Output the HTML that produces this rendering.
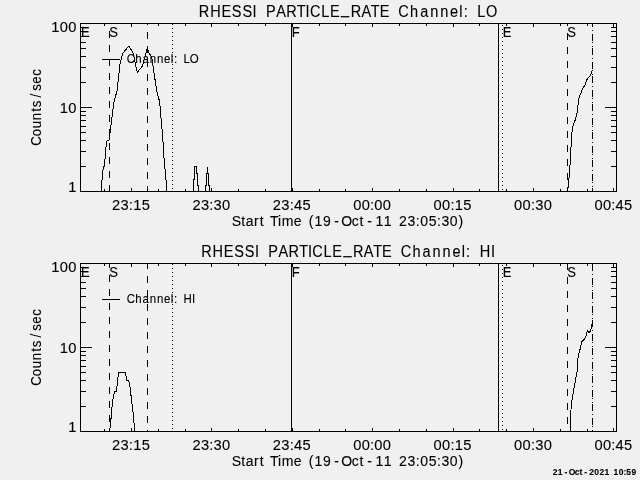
<!DOCTYPE html>
<html><head><meta charset="utf-8"><title>RHESSI PARTICLE_RATE</title>
<style>
html,body{margin:0;padding:0;background:#f0f0f0;}
body{width:640px;height:480px;overflow:hidden;}
svg{display:block;}
text{font-family:"Liberation Sans",sans-serif;fill:#000;stroke:#000;stroke-width:0.12px;}
.lab{font-size:14px;}
.ttl{font-size:16.5px;}
.leg{font-size:12.2px;}
.ts{font-size:8.5px;font-weight:bold;}
</style></head><body>
<svg width="640" height="480" viewBox="0 0 640 480">
<rect width="640" height="480" fill="#f0f0f0"/>
<g shape-rendering="crispEdges">
<rect x="80.5" y="23.5" width="536" height="168" fill="none" stroke="#000" stroke-width="1"/>
<path d="M80 191.5H92M605 191.5H617M80 166.5H86M611 166.5H617M80 151.5H86M611 151.5H617M80 140.5H86M611 140.5H617M80 132.5H86M611 132.5H617M80 126.5H86M611 126.5H617M80 120.5H86M611 120.5H617M80 115.5H86M611 115.5H617M80 111.5H86M611 111.5H617M80 107.5H92M605 107.5H617M80 82.5H86M611 82.5H617M80 67.5H86M611 67.5H617M80 56.5H86M611 56.5H617M80 48.5H86M611 48.5H617M80 42.5H86M611 42.5H617M80 36.5H86M611 36.5H617M80 31.5H86M611 31.5H617M80 27.5H86M611 27.5H617M80 23.5H92M605 23.5H617M104.5 189V192M104.5 23V26M131.5 188V192M131.5 23V27M158.5 189V192M158.5 23V26M185.5 189V192M185.5 23V26M211.5 188V192M211.5 23V27M238.5 189V192M238.5 23V26M265.5 189V192M265.5 23V26M292.5 188V192M292.5 23V27M319.5 189V192M319.5 23V26M345.5 189V192M345.5 23V26M372.5 188V192M372.5 23V27M399.5 189V192M399.5 23V26M426.5 189V192M426.5 23V26M453.5 188V192M453.5 23V27M479.5 189V192M479.5 23V26M506.5 189V192M506.5 23V26M533.5 188V192M533.5 23V27M560.5 189V192M560.5 23V26M587.5 189V192M587.5 23V26M613.5 188V192M613.5 23V27" stroke="#000" stroke-width="1" fill="none"/>
<line x1="109.5" y1="23" x2="109.5" y2="192" stroke="#000" stroke-width="1" stroke-dasharray="7 7" stroke-dashoffset="6"/>
<line x1="147.5" y1="23" x2="147.5" y2="192" stroke="#000" stroke-width="1" stroke-dasharray="7 7" stroke-dashoffset="5"/>
<line x1="172.5" y1="23" x2="172.5" y2="192" stroke="#000" stroke-width="1" stroke-dasharray="1 3" stroke-dashoffset="3"/>
<line x1="291.5" y1="23" x2="291.5" y2="192" stroke="#000" stroke-width="1"/>
<line x1="498.5" y1="23" x2="498.5" y2="192" stroke="#000" stroke-width="1"/>
<line x1="502.5" y1="23" x2="502.5" y2="192" stroke="#000" stroke-width="1" stroke-dasharray="1 3" stroke-dashoffset="2"/>
<line x1="567.5" y1="23" x2="567.5" y2="192" stroke="#000" stroke-width="1" stroke-dasharray="7 7" stroke-dashoffset="4"/>
<line x1="592.5" y1="23" x2="592.5" y2="192" stroke="#000" stroke-width="1" stroke-dasharray="7 3 1 3 7 1 1 3 1 1" stroke-dashoffset="3"/>
<polyline points="101.50,191.00 101.50,186.50 102.50,173.50 103.50,166.50 104.50,166.50 105.90,147.50 107.10,140.50 108.90,140.50 109.70,136.00 111.60,120.00 113.50,105.00 114.50,100.00 117.25,90.00 119.75,65.40 122.60,53.50 128.75,46.25 132.90,52.25 137.25,72.50 142.50,66.00 147.25,48.50 149.10,53.50 151.60,56.60 156.60,90.00 159.75,102.50 161.00,117.50 162.90,139.75 164.10,159.75 165.40,173.50 166.60,186.00 166.60,191.00" fill="none" stroke="#000" stroke-width="1" stroke-linejoin="bevel"/>
<polyline points="193.50,191.50 193.50,179.50 194.50,179.50 194.50,166.50 196.50,166.50 196.50,173.50 197.50,173.50 197.50,185.50 198.50,185.50 198.50,191.50" fill="none" stroke="#000" stroke-width="1" stroke-linejoin="bevel"/>
<polyline points="205.50,191.50 205.50,185.50 206.50,185.50 206.50,173.50 207.50,173.50 207.50,166.50 207.50,173.50 208.50,173.50 208.50,185.50 209.50,185.50 209.50,191.50" fill="none" stroke="#000" stroke-width="1" stroke-linejoin="bevel"/>
<polyline points="567.70,191.00 568.30,186.00 569.50,172.50 570.70,154.50 571.40,137.25 572.50,127.50 575.20,120.00 577.40,111.50 578.50,99.50 582.25,89.30 585.25,84.50 587.50,78.20 589.75,76.25 591.25,73.25 592.40,70.25" fill="none" stroke="#000" stroke-width="1" stroke-linejoin="bevel"/>
<line x1="102" y1="59.5" x2="120" y2="59.5" stroke="#000" stroke-width="1"/>
<rect x="80.5" y="263.5" width="536" height="168" fill="none" stroke="#000" stroke-width="1"/>
<path d="M80 431.5H92M605 431.5H617M80 406.5H86M611 406.5H617M80 391.5H86M611 391.5H617M80 380.5H86M611 380.5H617M80 372.5H86M611 372.5H617M80 366.5H86M611 366.5H617M80 360.5H86M611 360.5H617M80 355.5H86M611 355.5H617M80 351.5H86M611 351.5H617M80 347.5H92M605 347.5H617M80 322.5H86M611 322.5H617M80 307.5H86M611 307.5H617M80 296.5H86M611 296.5H617M80 288.5H86M611 288.5H617M80 282.5H86M611 282.5H617M80 276.5H86M611 276.5H617M80 271.5H86M611 271.5H617M80 267.5H86M611 267.5H617M80 263.5H92M605 263.5H617M104.5 429V432M104.5 263V266M131.5 428V432M131.5 263V267M158.5 429V432M158.5 263V266M185.5 429V432M185.5 263V266M211.5 428V432M211.5 263V267M238.5 429V432M238.5 263V266M265.5 429V432M265.5 263V266M292.5 428V432M292.5 263V267M319.5 429V432M319.5 263V266M345.5 429V432M345.5 263V266M372.5 428V432M372.5 263V267M399.5 429V432M399.5 263V266M426.5 429V432M426.5 263V266M453.5 428V432M453.5 263V267M479.5 429V432M479.5 263V266M506.5 429V432M506.5 263V266M533.5 428V432M533.5 263V267M560.5 429V432M560.5 263V266M587.5 429V432M587.5 263V266M613.5 428V432M613.5 263V267" stroke="#000" stroke-width="1" fill="none"/>
<line x1="109.5" y1="263" x2="109.5" y2="432" stroke="#000" stroke-width="1" stroke-dasharray="7 7" stroke-dashoffset="2"/>
<line x1="147.5" y1="263" x2="147.5" y2="432" stroke="#000" stroke-width="1" stroke-dasharray="7 7" stroke-dashoffset="1"/>
<line x1="172.5" y1="263" x2="172.5" y2="432" stroke="#000" stroke-width="1" stroke-dasharray="1 3" stroke-dashoffset="3"/>
<line x1="291.5" y1="263" x2="291.5" y2="432" stroke="#000" stroke-width="1"/>
<line x1="498.5" y1="263" x2="498.5" y2="432" stroke="#000" stroke-width="1"/>
<line x1="502.5" y1="263" x2="502.5" y2="432" stroke="#000" stroke-width="1" stroke-dasharray="1 3" stroke-dashoffset="2"/>
<line x1="567.5" y1="263" x2="567.5" y2="432" stroke="#000" stroke-width="1" stroke-dasharray="7 7" stroke-dashoffset="0"/>
<line x1="592.5" y1="263" x2="592.5" y2="432" stroke="#000" stroke-width="1" stroke-dasharray="7 3 1 3 7 1 1 3 1 1" stroke-dashoffset="27"/>
<polyline points="109.75,431.00 110.90,419.80 112.30,404.20 113.70,395.00 114.70,391.50 116.50,391.50 117.50,380.20 118.70,372.40 125.50,372.40 126.50,380.20 128.60,380.20 130.00,387.20 131.40,398.60 133.10,412.70 134.20,425.50 134.50,431.00" fill="none" stroke="#000" stroke-width="1" stroke-linejoin="bevel"/>
<polyline points="570.25,431.00 570.50,419.00 571.30,404.00 572.50,396.50 574.75,384.50 577.40,369.50 577.70,360.00 578.50,354.50 579.70,351.00 581.20,344.00 582.20,341.00 584.50,339.00 586.00,336.00 587.50,330.50 589.00,332.50 590.20,331.50 591.70,327.00 592.40,319.50" fill="none" stroke="#000" stroke-width="1" stroke-linejoin="bevel"/>
<line x1="102" y1="299.5" x2="120" y2="299.5" stroke="#000" stroke-width="1"/>
</g>
<g>
<text transform="scale(0.88 1)" x="225.99 238.91 251.69 263.41 275.44 287.06 294.28 302.19 313.91 325.18 337.21 347.18 352.23 365.02 374.92 387.56 398.51 410.69 421.37 431.43 445.16 452.62 466.01 477.43 488.85 500.27 511.39 521.96 526.92 534.73 542.35 552.25" y="17.00 17.00 17.00 17.00 17.00 17.00 17.00 17.00 17.00 17.00 17.00 17.00 17.00 17.00 17.00 14.40 17.00 17.00 17.00 17.00 17.00 17.00 17.00 17.00 17.00 17.00 17.00 17.00 17.00 17.00 17.00 17.00" class="ttl">RHESSI PARTICLE_RATE Channel: LO</text>
<text transform="scale(0.94 1)" x="134.74 143.86 151.56 159.27 166.97 174.46 181.77 185.08 190.35 195.34 201.89" y="63" class="leg">Channel: LO</text>
<text transform="scale(0.93 1)" x="87.07" y="36.8" class="lab">E</text>
<text transform="scale(0.93 1)" x="117.51" y="36.8" class="lab">S</text>
<text transform="scale(0.93 1)" x="313.80" y="36.8" class="lab">F</text>
<text transform="scale(0.93 1)" x="540.62" y="36.8" class="lab">E</text>
<text transform="scale(0.93 1)" x="610.09" y="36.8" class="lab">S</text>
<text transform="scale(1.05 1)" x="48.82 56.88 64.94" y="32.4" class="lab">100</text>
<text transform="scale(1.05 1)" x="56.88 64.94" y="113" class="lab">10</text>
<text transform="scale(1.05 1)" x="64.94" y="192" class="lab">1</text>
<text transform="scale(1.05 1)" x="106.69 114.75 122.74 126.84 134.89" y="210" class="lab">23:15</text>
<text transform="scale(1.05 1)" x="183.26 191.32 199.31 203.41 211.46" y="210" class="lab">23:30</text>
<text transform="scale(1.05 1)" x="259.84 267.89 275.88 279.98 288.04" y="210" class="lab">23:45</text>
<text transform="scale(1.05 1)" x="336.41 344.46 352.46 356.55 364.61" y="210" class="lab">00:00</text>
<text transform="scale(1.05 1)" x="412.98 421.04 429.03 433.12 441.18" y="210" class="lab">00:15</text>
<text transform="scale(1.05 1)" x="489.55 497.61 505.60 509.69 517.75" y="210" class="lab">00:30</text>
<text transform="scale(1.05 1)" x="566.12 574.18 582.17 586.26 594.32" y="210" class="lab">00:45</text>
<text x="231.66 241.15 245.76 254.09 259.76 265.69 270.12 277.92 281.68 293.77 302.91 308.87 314.50 322.96 334.25 341.29 351.69 359.59 367.24 375.41 383.87 393.43 399.10 407.56 415.85 420.25 428.71 437.00 441.40 449.86 458.61" y="226" class="lab">Start Time (19-Oct-11 23:05:30)</text>
<text transform="translate(40.6 107) rotate(-90) scale(0.95 1)" x="-40.90 -30.83 -22.37 -13.91 -5.06 -0.16 10.08 17.20 24.60 33.01" y="0" class="lab">Counts/sec</text>
<text transform="scale(0.88 1)" x="228.69 241.62 254.40 266.12 278.14 289.77 296.98 304.89 316.61 327.88 339.92 349.88 354.93 367.72 377.63 390.27 401.22 413.40 424.08 434.14 447.87 455.32 468.71 480.14 491.56 502.98 514.10 524.67 529.62 537.44 545.19 557.87" y="257.00 257.00 257.00 257.00 257.00 257.00 257.00 257.00 257.00 257.00 257.00 257.00 257.00 257.00 257.00 254.40 257.00 257.00 257.00 257.00 257.00 257.00 257.00 257.00 257.00 257.00 257.00 257.00 257.00 257.00 257.00 257.00" class="ttl">RHESSI PARTICLE_RATE Channel: HI</text>
<text transform="scale(0.94 1)" x="134.74 143.86 151.56 159.27 166.97 174.46 181.77 185.08 190.35 195.34 204.13" y="303" class="leg">Channel: HI</text>
<text transform="scale(0.93 1)" x="87.07" y="276.8" class="lab">E</text>
<text transform="scale(0.93 1)" x="117.51" y="276.8" class="lab">S</text>
<text transform="scale(0.93 1)" x="313.80" y="276.8" class="lab">F</text>
<text transform="scale(0.93 1)" x="540.62" y="276.8" class="lab">E</text>
<text transform="scale(0.93 1)" x="610.09" y="276.8" class="lab">S</text>
<text transform="scale(1.05 1)" x="48.82 56.88 64.94" y="272.4" class="lab">100</text>
<text transform="scale(1.05 1)" x="56.88 64.94" y="353" class="lab">10</text>
<text transform="scale(1.05 1)" x="64.94" y="432" class="lab">1</text>
<text transform="scale(1.05 1)" x="106.69 114.75 122.74 126.84 134.89" y="450" class="lab">23:15</text>
<text transform="scale(1.05 1)" x="183.26 191.32 199.31 203.41 211.46" y="450" class="lab">23:30</text>
<text transform="scale(1.05 1)" x="259.84 267.89 275.88 279.98 288.04" y="450" class="lab">23:45</text>
<text transform="scale(1.05 1)" x="336.41 344.46 352.46 356.55 364.61" y="450" class="lab">00:00</text>
<text transform="scale(1.05 1)" x="412.98 421.04 429.03 433.12 441.18" y="450" class="lab">00:15</text>
<text transform="scale(1.05 1)" x="489.55 497.61 505.60 509.69 517.75" y="450" class="lab">00:30</text>
<text transform="scale(1.05 1)" x="566.12 574.18 582.17 586.26 594.32" y="450" class="lab">00:45</text>
<text x="231.66 241.15 245.76 254.09 259.76 265.69 270.12 277.92 281.68 293.77 302.91 308.87 314.50 322.96 334.25 341.29 351.69 359.59 367.24 375.41 383.87 393.43 399.10 407.56 415.85 420.25 428.71 437.00 441.40 449.86 458.61" y="466" class="lab">Start Time (19-Oct-11 23:05:30)</text>
<text transform="translate(40.6 347) rotate(-90) scale(0.95 1)" x="-40.90 -30.83 -22.37 -13.91 -5.06 -0.16 10.08 17.20 24.60 33.01" y="0" class="lab">Counts/sec</text>
<text x="552.66 557.74 564.53 568.73 574.75 579.51 584.34 589.23 594.31 599.39 604.47 610.23 613.62 618.70 623.45 626.32 631.40" y="475" class="ts">21-Oct-2021 10:59</text>
</g>
</svg>
</body></html>
